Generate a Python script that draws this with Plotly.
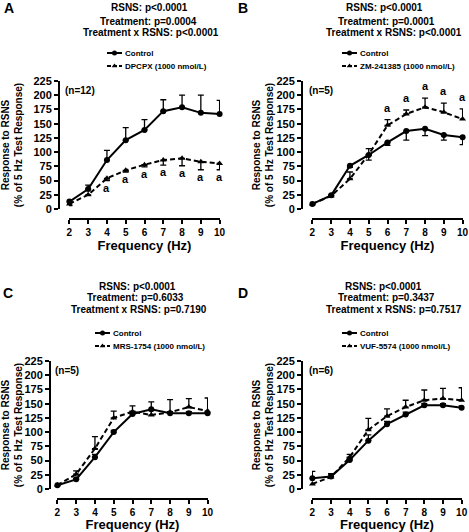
import plotly.graph_objects as go

W, H = 469, 532
FONT = "Liberation Sans, Arial, sans-serif"

freq = [2, 3, 4, 5, 6, 7, 8, 9, 10]
y_ticks = list(range(0, 226, 25))

# Panel A
a_ctrl = [13, 35, 86, 121, 139, 172, 179, 169, 167]
a_ctrl_err = [3, 7, 17, 22, 18, 20, 21, 31, 24]
a_trt = [9, 25, 54, 68, 78, 86, 89, 83, 80]
a_trt_err = [3, 1, 4, 3, 4, 9, 13, 14, 11]
a_sig = [0, 0, 1, 1, 1, 1, 1, 1, 1]

# Panel B
b_ctrl = [9, 24, 76, 95, 117, 137, 141, 130, 126]
b_ctrl_err = [1, 2, 3, 9, 5, 16, 12, 9, 13]
b_trt = [9, 23, 53, 96, 147, 167, 179, 170, 158]
b_trt_err = [1, 2, 12, 10, 10, 7, 16, 16, 18]
b_sig = [0, 0, 0, 0, 1, 1, 1, 1, 1]

# Panel C
c_ctrl = [6.5, 17, 56, 100, 132, 140, 133, 133, 133]
c_ctrl_err = [1, 2, 5, 3, 5, 13, 3, 3, 3]
c_trt = [7, 26, 71, 125, 136, 130, 135, 144, 137]
c_trt_err = [1, 6, 21, 12, 10, 8, 22, 15, 23]
c_sig = [0] * 9

# Panel D
d_ctrl = [19, 22, 51, 85, 114, 131, 147, 147, 143]
d_ctrl_err = [12, 4, 4, 10, 5, 4, 3, 3, 3]
d_trt = [9, 21, 56, 104, 128, 144, 156, 159, 156]
d_trt_err = [0, 6, 5, 20, 13, 12, 18, 18, 22]
d_sig = [0] * 9

letters = ["A", "B", "C", "D"]
treat_names = ["DPCPX (1000 nmol/L)", "ZM-241385 (1000 nmol/L)",
               "MRS-1754 (1000 nmol/L)", "VUF-5574 (1000 nmol/L)"]
n_labels = ["(n=12)", "(n=5)", "(n=5)", "(n=6)"]
stats = [
    ["RSNS: p<0.0001", "Treatment: p=0.0004", "Treatment x RSNS: p<0.0001"],
    ["RSNS: p<0.0001", "Treatment: p=0.0001", "Treatment x RSNS: p<0.0001"],
    ["RSNS: p<0.0001", "Treatment: p=0.6033", "Treatment x RSNS: p=0.7190"],
    ["RSNS: p<0.0001", "Treatment: p=0.3437", "Treatment x RSNS: p=0.7517"],
]
x_title = "Frequency (Hz)"
y_title = "Response to RSNS<br>(% of 5 Hz Test Response)"

panels = [
    dict(ctrl=a_ctrl, ce=a_ctrl_err, trt=a_trt, te=a_trt_err, sig=a_sig),
    dict(ctrl=b_ctrl, ce=b_ctrl_err, trt=b_trt, te=b_trt_err, sig=b_sig),
    dict(ctrl=c_ctrl, ce=c_ctrl_err, trt=c_trt, te=c_trt_err, sig=c_sig),
    dict(ctrl=d_ctrl, ce=d_ctrl_err, trt=d_trt, te=d_trt_err, sig=d_sig),
]

# ---- layout geometry (pixels) ----
geo = [
    dict(x0=69, x1=220, ytop=81, ybot=209, yax=59, xax=219, letter=(9, 8),
         tcx=[149, 148, 151], ty=[7, 21, 32], leg_sym=107, leg_y=[53, 66], n=(63, 90),
         ctrl_dir="up", trt_dir="down", ystand=12),
    dict(x0=312, x1=463, ytop=81, ybot=209, yax=302, xax=219, letter=(243, 8),
         tcx=[384, 386, 394], ty=[7, 21, 32], leg_sym=342, leg_y=[53, 66], n=(307, 90),
         ctrl_dir="down", trt_dir="up", ystand=0),
    dict(x0=57, x1=208, ytop=361, ybot=489, yax=50, xax=499, letter=(8, 293),
         tcx=[137, 135, 139], ty=[286, 297, 309], leg_sym=95, leg_y=[333, 346], n=(53, 370),
         ctrl_dir="up", trt_dir="up", ystand=8),
    dict(x0=312, x1=462, ytop=361, ybot=489, yax=302, xax=499, letter=(243, 293),
         tcx=[383, 386, 394], ty=[286, 297, 309], leg_sym=342, leg_y=[333, 346], n=(307, 370),
         ctrl_dir="up", trt_dir="up", ystand=0),
]

X_PAD = 0.02  # tiny range padding so the end ticks are never dropped


def px(x):
    return x / W


def py(y):
    return 1 - y / H


fig = go.Figure()
annotations = []
BLACK = "#000000"


def err_dict(err, direction):
    zeros = [0] * len(err)
    plus = err if direction == "up" else zeros
    minus = err if direction == "down" else zeros
    return dict(type="data", symmetric=False, array=plus, arrayminus=minus,
                color=BLACK, thickness=1.3, width=3)


# legend glyphs overlay axis (pixel coordinates of the page)
fig.update_layout(
    xaxis5=dict(domain=[0, 1], range=[0, W], visible=False, anchor="y5", fixedrange=True),
    yaxis5=dict(domain=[0, 1], range=[H, 0], visible=False, anchor="x5", fixedrange=True),
)

for i, (p, g) in enumerate(zip(panels, geo)):
    k = "" if i == 0 else str(i + 1)
    xa, ya = "x" + k, "y" + k
    # control
    fig.add_trace(go.Scatter(
        x=freq, y=p["ctrl"], xaxis=xa, yaxis=ya, mode="lines+markers",
        line=dict(color=BLACK, width=2),
        marker=dict(symbol="circle", size=6, color=BLACK),
        error_y=err_dict(p["ce"], g["ctrl_dir"]),
        cliponaxis=False, showlegend=False, name="Control"))
    # treatment
    fig.add_trace(go.Scatter(
        x=freq, y=p["trt"], xaxis=xa, yaxis=ya, mode="lines+markers",
        line=dict(color=BLACK, width=2, dash="5px,3px"),
        marker=dict(symbol="triangle-up", size=6, color=BLACK),
        error_y=err_dict(p["te"], g["trt_dir"]),
        cliponaxis=False, showlegend=False, name=treat_names[i]))

    # significance markers
    for xv, yv, ev, s in zip(freq, p["trt"], p["te"], p["sig"]):
        if not s:
            continue
        if g["trt_dir"] == "down":
            ypos, shift = yv - ev, -7
        else:
            ypos, shift = yv + ev, 12
        annotations.append(dict(x=xv, y=ypos, xref=xa, yref=ya, text="a",
                                showarrow=False, yshift=shift, yanchor="middle",
                                font=dict(family=FONT, size=11, color=BLACK, weight="bold")))

    axis_common = dict(showgrid=False, zeroline=False, showline=True, linecolor=BLACK,
                       linewidth=2, ticks="outside", ticklen=4, tickwidth=2,
                       tickcolor=BLACK, anchor="free", automargin=False,
                       ticklabeloverflow="allow")
    fig.update_layout(**{
        "xaxis" + k: dict(
            domain=[px(g["x0"]), px(g["x1"])], range=[2 - X_PAD, 10 + X_PAD],
            tickmode="array",
            tickvals=freq, ticktext=[str(f) for f in freq],
            position=py(g["xax"]),
            tickfont=dict(family=FONT, size=10, color=BLACK, weight="bold"),
            title=dict(text=x_title, standoff=3,
                       font=dict(family=FONT, size=13, color=BLACK, weight="bold")),
            **axis_common),
        "yaxis" + k: dict(
            domain=[py(g["ybot"]), py(g["ytop"])], range=[0, 225], tickmode="array",
            tickvals=y_ticks, ticktext=[str(t) for t in y_ticks],
            position=px(g["yax"]),
            tickfont=dict(family=FONT, size=11, color=BLACK, weight="bold"),
            title=dict(text=y_title, standoff=g["ystand"],
                       font=dict(family=FONT, size=10, color=BLACK, weight="bold")),
            **axis_common),
    })

    # panel letter
    annotations.append(dict(x=px(g["letter"][0]), y=py(g["letter"][1]), xref="paper",
                            yref="paper", text=letters[i], showarrow=False,
                            xanchor="center", yanchor="middle",
                            font=dict(family=FONT, size=14, color=BLACK, weight="bold")))
    # stats title lines
    for line, cx, cy in zip(stats[i], g["tcx"], g["ty"]):
        annotations.append(dict(x=px(cx), y=py(cy), xref="paper", yref="paper",
                                text=line, showarrow=False, xanchor="center",
                                yanchor="middle",
                                font=dict(family=FONT, size=10, color=BLACK,
                                          weight="bold")))
    # n label
    annotations.append(dict(x=px(g["n"][0]), y=py(g["n"][1]), xref="paper", yref="paper",
                            text=n_labels[i], showarrow=False, xanchor="left",
                            yanchor="middle",
                            font=dict(family=FONT, size=10, color=BLACK, weight="bold")))
    # legend text
    for lbl, ly in zip(["Control", treat_names[i]], g["leg_y"]):
        annotations.append(dict(x=px(g["leg_sym"] + 16), y=py(ly), xref="paper",
                                yref="paper", text=lbl, showarrow=False,
                                xanchor="left", yanchor="middle",
                                font=dict(family=FONT, size=8, color=BLACK,
                                          weight="bold")))
    # legend glyphs on pixel overlay axis
    s0 = g["leg_sym"]
    fig.add_trace(go.Scatter(x=[s0, s0 + 15], y=[g["leg_y"][0]] * 2, xaxis="x5", yaxis="y5",
                             mode="lines", line=dict(color=BLACK, width=2),
                             showlegend=False, hoverinfo="skip"))
    fig.add_trace(go.Scatter(x=[s0 + 7.5], y=[g["leg_y"][0]], xaxis="x5", yaxis="y5",
                             mode="markers", marker=dict(symbol="circle", size=5, color=BLACK),
                             showlegend=False, hoverinfo="skip", cliponaxis=False))
    fig.add_trace(go.Scatter(x=[s0, s0 + 15], y=[g["leg_y"][1]] * 2, xaxis="x5", yaxis="y5",
                             mode="lines", line=dict(color=BLACK, width=2, dash="4px,2px"),
                             showlegend=False, hoverinfo="skip"))
    fig.add_trace(go.Scatter(x=[s0 + 7.5], y=[g["leg_y"][1]], xaxis="x5", yaxis="y5",
                             mode="markers",
                             marker=dict(symbol="triangle-up", size=5, color=BLACK),
                             showlegend=False, hoverinfo="skip", cliponaxis=False))

fig.update_layout(
    width=W, height=H, margin=dict(l=0, r=0, t=0, b=0),
    paper_bgcolor="white", plot_bgcolor="rgba(0,0,0,0)",
    annotations=annotations, showlegend=False, hovermode=False,
    font=dict(family=FONT, color=BLACK),
)

fig.write_html("out.html", config={"displayModeBar": False, "staticPlot": True},
               post_script="document.body.style.margin='0';document.body.style.padding='0';")
